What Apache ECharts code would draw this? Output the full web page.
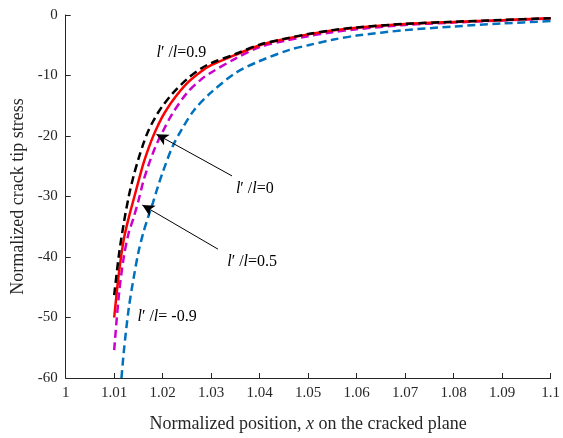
<!DOCTYPE html>
<html>
<head>
<meta charset="utf-8">
<script src="https://cdn.jsdelivr.net/npm/echarts@6/dist/echarts.min.js"></script>
<style>
  html, body { margin: 0; padding: 0; background: #fff; }
  #main { width: 563px; height: 438px; }
</style>
</head>
<body>
<div id="main"></div>
<script>
// 读图得到的数据 (x, 应力)
var xRed   = [1.010, 1.011, 1.012, 1.013, 1.014, 1.015, 1.016, 1.017, 1.018, 1.019, 1.020, 1.022, 1.025, 1.028, 1.030, 1.035, 1.040, 1.045, 1.050, 1.055, 1.060, 1.070, 1.080, 1.090, 1.100];
var yRed   = [-50, -42.5, -37.0, -33.5, -30.5, -27.5, -24.6, -22.2, -20.1, -18.3, -16.7, -14.2, -11.3, -9.3, -8.3, -6.6, -5.0, -4.0, -3.2, -2.55, -2.1, -1.5, -1.15, -0.85, -0.55];

var xBlack = [1.010, 1.011, 1.012, 1.013, 1.014, 1.015, 1.016, 1.017, 1.018, 1.019, 1.020, 1.022, 1.025, 1.028, 1.030, 1.035, 1.040, 1.045, 1.050, 1.055, 1.060, 1.070, 1.080, 1.090, 1.100];
var yBlack = [-46.3, -39.5, -34.3, -30.0, -26.6, -23.8, -21.3, -19.2, -17.6, -16.2, -15.0, -13.0, -10.6, -8.8, -7.95, -6.45, -4.9, -3.95, -3.15, -2.5, -2.05, -1.47, -1.12, -0.82, -0.52];

var xMag   = [1.010, 1.011, 1.012, 1.013, 1.014, 1.015, 1.016, 1.017, 1.018, 1.019, 1.020, 1.022, 1.025, 1.028, 1.030, 1.035, 1.040, 1.045, 1.050, 1.055, 1.060, 1.070, 1.080, 1.090, 1.100];
var yMag   = [-55.4, -46.0, -39.9, -36.0, -33.5, -30.7, -27.5, -25.0, -22.8, -20.9, -19.3, -16.3, -12.9, -10.6, -9.5, -7.2, -5.3, -4.3, -3.5, -2.85, -2.35, -1.65, -1.25, -0.9, -0.6];

var xBlue  = [1.0115, 1.012, 1.013, 1.014, 1.015, 1.016, 1.017, 1.018, 1.019, 1.020, 1.022, 1.024, 1.0265, 1.030, 1.035, 1.040, 1.046, 1.050, 1.055, 1.060, 1.070, 1.080, 1.090, 1.100];
var yBlue  = [-60, -55.5, -48.5, -43.5, -39.2, -36.0, -33.4, -31.0, -28.4, -26.0, -21.8, -18.8, -15.7, -12.8, -9.6, -7.6, -5.8, -5.0, -4.1, -3.4, -2.5, -1.9, -1.4, -1.0];

// 标注文字 (左边缘, 垂直中心) 和箭头 (尾 -> 头), 数据坐标
var labelText = ['0.9', '0', '0.5', ' -0.9'];
var labelPos  = [[1.01872, -6.3], [1.0351, -28.8], [1.0333, -40.8], [1.0148, -49.9]];
var arrows    = [[[1.0343, -26.6], [1.0187, -19.7]], [[1.0314, -38.7], [1.0158, -31.4]]];

function pairs(xs, ys) {
    var list = [];
    for (var i = 0; i < xs.length; i++) {
        list.push([xs[i], ys[i]]);
    }
    return list;
}

var textColor = '#262626';
var font = 'Liberation Serif';

var chart = echarts.init(document.getElementById('main'), null, { renderer: 'canvas' });

chart.setOption({
    animation: false,
    backgroundColor: '#fff',
    grid: { left: 65.7, right: 9, top: 15, bottom: 60, containLabel: false },
    xAxis: {
        type: 'value',
        min: 1, max: 1.1, interval: 0.01,
        name: 'Normalized position, {i|x} on the cracked plane',
        nameLocation: 'middle',
        nameGap: 37,
        nameTextStyle: {
            fontFamily: font, fontSize: 18, color: textColor,
            rich: { i: { fontFamily: font, fontSize: 18, fontStyle: 'italic', color: textColor } }
        },
        axisLine: { show: true, onZero: false, lineStyle: { color: textColor, width: 1 } },
        axisTick: { show: true, inside: true, length: 5, lineStyle: { color: textColor } },
        axisLabel: {
            fontFamily: font, fontSize: 15, color: textColor, margin: 8,
            formatter: function (v) { return String(+v.toFixed(2)); }
        },
        splitLine: { show: false }
    },
    yAxis: {
        type: 'value',
        min: -60, max: 0, interval: 10,
        name: 'Normalized crack tip stress',
        nameLocation: 'middle',
        nameGap: 38,
        nameTextStyle: { fontFamily: font, fontSize: 18, color: textColor },
        axisLine: { show: true, onZero: false, lineStyle: { color: textColor, width: 1 } },
        axisTick: { show: true, inside: true, length: 5, lineStyle: { color: textColor } },
        axisLabel: { fontFamily: font, fontSize: 15, color: textColor, margin: 8 },
        splitLine: { show: false }
    },
    series: [
        {
            name: '-0.9', type: 'line', data: pairs(xBlue, yBlue), showSymbol: false, smooth: 0.3,
            clip: true, lineStyle: { color: '#0072BD', width: 2.5, type: [8, 4.5] }
        },
        {
            name: '0.5', type: 'line', data: pairs(xMag, yMag), showSymbol: false, smooth: 0.3,
            lineStyle: { color: '#CC00CC', width: 2.5, type: [8, 4.5] }
        },
        {
            name: '0', type: 'line', data: pairs(xRed, yRed), showSymbol: false, smooth: 0.3,
            lineStyle: { color: '#FF0000', width: 2.5 }
        },
        {
            name: '0.9', type: 'line', data: pairs(xBlack, yBlack), showSymbol: false, smooth: 0.3,
            lineStyle: { color: '#000000', width: 2.5, type: [8, 4.5] },
            markLine: {
                silent: true,
                animation: false,
                label: { show: false },
                lineStyle: { color: '#000', width: 1, type: 'solid' },
                symbolSize: [9, 12],
                data: arrows.map(function (a) {
                    return [
                        { coord: a[0], symbol: 'none' },
                        { coord: a[1], symbol: 'arrow' }
                    ];
                })
            }
        }
    ]
});

// 标注文字
var graphics = [];
for (var i = 0; i < labelText.length; i++) {
    var p = chart.convertToPixel({ gridIndex: 0 }, labelPos[i]);
    graphics.push({
        type: 'text',
        x: p[0], y: p[1],
        style: {
            text: '{i|l}′ /{i|l}=' + labelText[i],
            font: '16px "Liberation Serif"',
            fill: '#000',
            verticalAlign: 'middle',
            align: 'left',
            rich: { i: { fontStyle: 'italic', fontFamily: font, fontSize: 16, fill: '#000' } }
        }
    });
}
chart.setOption({ graphic: graphics });
</script>
</body>
</html>
